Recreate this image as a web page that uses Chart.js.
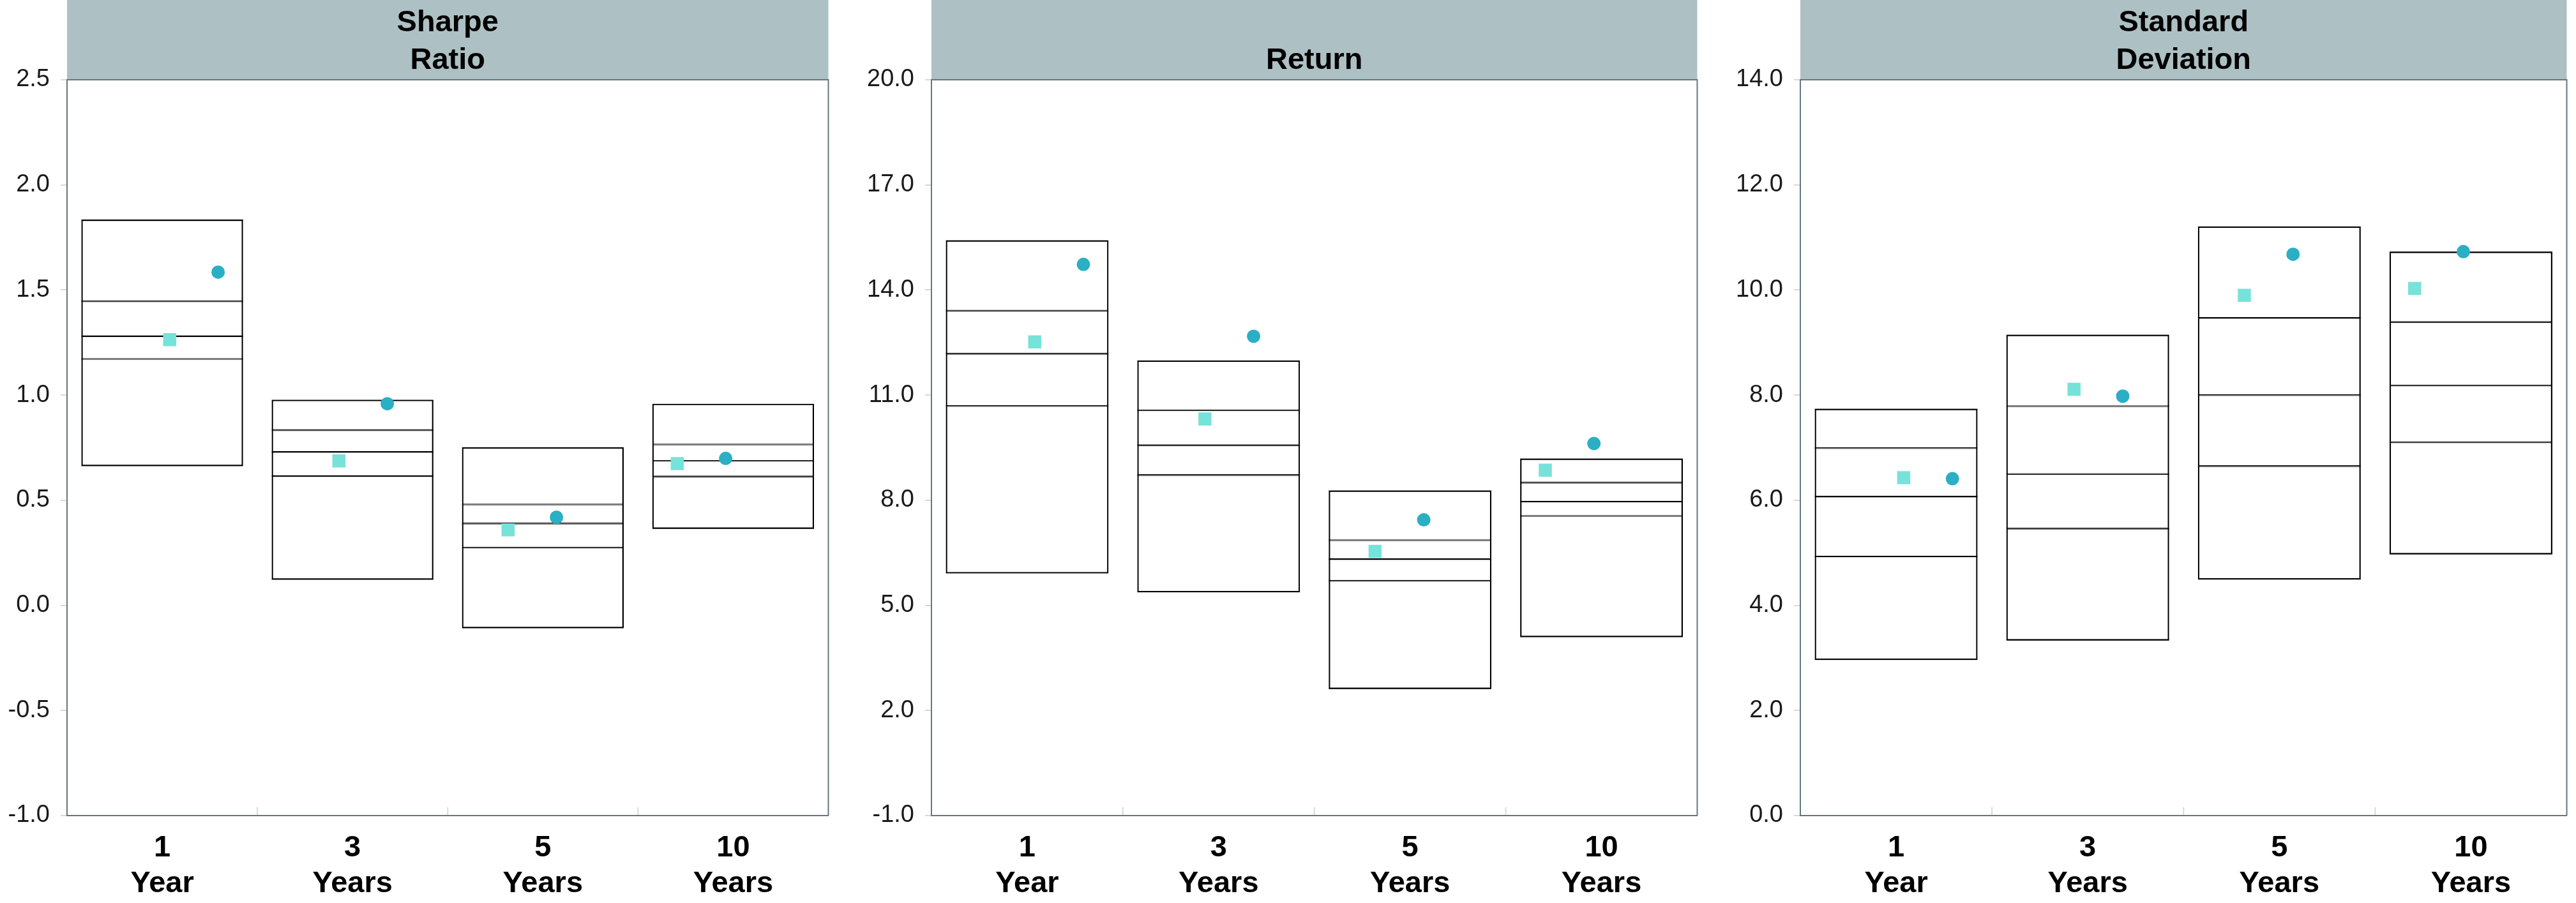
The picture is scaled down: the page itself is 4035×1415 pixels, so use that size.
<!DOCTYPE html>
<html>
<head>
<meta charset="utf-8">
<title>Sharpe Ratio, Return, Standard Deviation</title>
<script src="https://cdn.jsdelivr.net/npm/chart.js@4.4.1/dist/chart.umd.min.js"></script>
<style>
  html, body { margin: 0; padding: 0; background: #fff; }
  body { width: 4035px; height: 1415px; position: relative; overflow: hidden; }
  canvas { position: absolute; top: 0; }
</style>
</head>
<body>
<canvas id="sharpe" width="1312" height="1415" style="left:0px"></canvas>
<canvas id="return" width="1319" height="1415" style="left:1354px"></canvas>
<canvas id="stdev" width="1320" height="1415" style="left:2715px"></canvas>
<script>
// categories
const categories = [['1', 'Year'], ['3', 'Years'], ['5', 'Years'], ['10', 'Years']]

// Sharpe ratio
const sharpeTicks = [-1.0, -0.5, 0.0, 0.5, 1.0, 1.5, 2.0, 2.5]
const sharpeTop = [1.835, 0.978, 0.752, 0.959]
const sharpeUpper = [1.446, 0.833, 0.480, 0.765]
const sharpeMid = [1.280, 0.730, 0.389, 0.687]
const sharpeLower = [1.172, 0.615, 0.274, 0.613]
const sharpeBottom = [0.662, 0.122, -0.109, 0.364]
const sharpeCircle = [1.585, 0.959, 0.419, 0.699]
const sharpeSquare = [1.264, 0.687, 0.359, 0.674]

// Return
const returnTicks = [-1.0, 2.0, 5.0, 8.0, 11.0, 14.0, 17.0, 20.0]
const returnTop = [15.42, 11.99, 8.28, 9.19]
const returnUpper = [13.41, 10.57, 6.86, 8.50]
const returnMid = [12.18, 9.57, 6.32, 7.96]
const returnLower = [10.69, 8.72, 5.70, 7.55]
const returnBottom = [5.91, 5.37, 2.61, 4.09]
const returnCircle = [14.73, 12.68, 7.44, 9.62]
const returnSquare = [12.52, 10.32, 6.54, 8.86]

// Standard deviation
const sdTicks = [0.0, 2.0, 4.0, 6.0, 8.0, 10.0, 12.0, 14.0]
const sdTop = [7.74, 9.15, 11.21, 10.73]
const sdUpper = [6.99, 7.79, 9.47, 9.39]
const sdMid = [6.07, 6.50, 8.00, 8.18]
const sdLower = [4.93, 5.46, 6.65, 7.10]
const sdBottom = [2.96, 3.33, 4.49, 4.97]
const sdCircle = [6.41, 7.98, 10.68, 10.73]
const sdSquare = [6.43, 8.11, 9.90, 10.03]

const FONT = "'Liberation Sans', Arial, Helvetica, sans-serif"
const AXIS_W = 105
const BAND_H = 125
const XAXIS_H = 137
const DOT_SHIFT = 0.143
const FRAME = '#66767f'

// header band, title, frame and category separators
const panelDecor = {
  id: 'panelDecor',
  beforeDraw (chart) {
    const { ctx, chartArea } = chart
    ctx.save()
    ctx.fillStyle = '#adc0c3'
    ctx.fillRect(chartArea.left, 0, chartArea.right - chartArea.left, chartArea.top)
    ctx.restore()
  },
  afterDraw (chart, args, opts) {
    const { ctx, chartArea } = chart
    const xs = chart.scales.x
    ctx.save()
    ctx.fillStyle = '#000'
    ctx.font = 'bold 47px ' + FONT
    ctx.textAlign = 'center'
    ctx.textBaseline = 'alphabetic'
    const cx = (chartArea.left + chartArea.right) / 2
    const lines = opts.lines
    lines.forEach((line, i) => {
      ctx.fillText(line, cx, 108 - (lines.length - 1 - i) * 59)
    })

    ctx.strokeStyle = FRAME
    ctx.lineWidth = 2
    ctx.beginPath()
    ctx.moveTo(chartArea.left, chartArea.top)
    ctx.lineTo(chartArea.right, chartArea.top)
    ctx.lineTo(chartArea.right, chartArea.bottom)
    ctx.stroke()

    ctx.strokeStyle = '#dadada'
    ctx.beginPath()
    for (let i = 0; i < categories.length - 1; i++) {
      const sx = (xs.getPixelForValue(i) + xs.getPixelForValue(i + 1)) / 2
      ctx.moveTo(sx, chartArea.bottom - 13)
      ctx.lineTo(sx, chartArea.bottom - 1)
    }
    ctx.stroke()
    ctx.restore()
  }
}

function boxSegment (lo, hi) {
  return {
    type: 'bar',
    xAxisID: 'x',
    data: lo.map((v, i) => [v, hi[i]]),
    backgroundColor: '#fff',
    borderColor: '#000',
    borderWidth: { top: 1.3, bottom: 1.3, left: 0, right: 0 },
    borderSkipped: false,
    grouped: false,
    barPercentage: 0.85,
    categoryPercentage: 1,
    order: 3
  }
}

function boxOutline (lo, hi) {
  return {
    type: 'bar',
    xAxisID: 'x',
    data: lo.map((v, i) => [v, hi[i]]),
    backgroundColor: 'rgba(0,0,0,0)',
    borderColor: '#000',
    borderWidth: 2.2,
    borderSkipped: false,
    grouped: false,
    barPercentage: 0.85,
    categoryPercentage: 1,
    order: 2
  }
}

function marks (values, shift, style, color, radius) {
  return {
    type: 'scatter',
    xAxisID: 'xp',
    data: values.map((v, i) => ({ x: i + shift, y: v })),
    pointStyle: style,
    pointRadius: radius,
    pointBackgroundColor: color,
    pointBorderWidth: 0,
    showLine: false,
    order: 1
  }
}

function makePanel (id, lines, ticks, top, upper, mid, lower, bottom, circle, square, rightPad) {
  const ctx = document.getElementById(id).getContext('2d')
  return new Chart(ctx, {
    type: 'bar',
    data: {
      labels: categories,
      datasets: [
        marks(square, -DOT_SHIFT, 'rect', '#77e2d9', 14.5),
        marks(circle, DOT_SHIFT, 'circle', '#2aafc4', 10.5),
        boxOutline(bottom, top),
        boxSegment(upper, top),
        boxSegment(mid, upper),
        boxSegment(lower, mid),
        boxSegment(bottom, lower)
      ]
    },
    options: {
      responsive: false,
      devicePixelRatio: 1,
      animation: false,
      events: [],
      layout: { padding: { top: BAND_H, right: rightPad, left: 0, bottom: 0 } },
      plugins: {
        legend: { display: false },
        tooltip: { enabled: false },
        panelDecor: { lines }
      },
      scales: {
        x: {
          type: 'category',
          offset: true,
          grid: { display: false, drawTicks: false },
          border: { display: true, color: FRAME, width: 2 },
          ticks: {
            color: '#000',
            font: { family: FONT, size: 47, weight: 'bold', lineHeight: 56 / 47 },
            padding: 23,
            maxRotation: 0,
            autoSkip: false
          },
          afterFit (scale) { scale.height = XAXIS_H }
        },
        xp: {
          type: 'linear',
          display: false,
          min: -0.5,
          max: categories.length - 0.5
        },
        y: {
          type: 'linear',
          min: ticks[0],
          max: ticks[ticks.length - 1],
          grid: { drawOnChartArea: false, drawTicks: true, tickLength: 10, color: '#d8d8d8', lineWidth: 2 },
          border: { display: true, color: FRAME, width: 2 },
          ticks: {
            color: '#1a1a1a',
            font: { family: FONT, size: 38 },
            padding: 17,
            callback: (v) => Number(v).toFixed(1)
          },
          afterBuildTicks (scale) { scale.ticks = ticks.map((v) => ({ value: v })) },
          afterFit (scale) { scale.width = AXIS_W }
        }
      }
    },
    plugins: [panelDecor]
  })
}

makePanel('sharpe', ['Sharpe', 'Ratio'], sharpeTicks, sharpeTop, sharpeUpper, sharpeMid, sharpeLower, sharpeBottom, sharpeCircle, sharpeSquare, 3)
makePanel('return', ['Return'], returnTicks, returnTop, returnUpper, returnMid, returnLower, returnBottom, returnCircle, returnSquare, 3)
makePanel('stdev', ['Standard', 'Deviation'], sdTicks, sdTop, sdUpper, sdMid, sdLower, sdBottom, sdCircle, sdSquare, 2)
</script>
</body>
</html>
